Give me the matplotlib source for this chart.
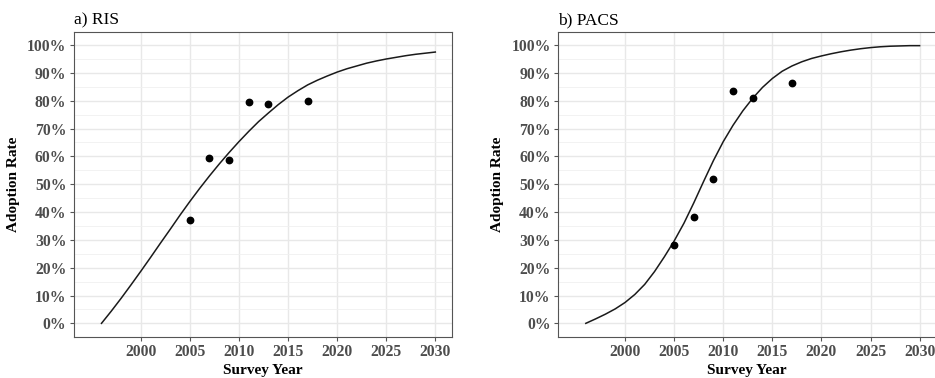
import matplotlib
matplotlib.use("Agg")
import matplotlib.pyplot as plt
from matplotlib.ticker import MultipleLocator, FuncFormatter

# ---- data ----
survey_years = [2005, 2007, 2009, 2011, 2013, 2017]
ris_obs = [37.0, 59.4, 58.7, 79.4, 79.0, 79.9]
pacs_obs = [28.1, 38.2, 52.0, 83.4, 80.9, 86.4]

curve_years = list(range(1996, 2031))
ris_curve = [0.0, 4.4, 9.0, 13.8, 18.7, 23.7, 28.8, 33.8, 38.9, 43.8,
             48.5, 53.0, 57.3, 61.4, 65.3, 69.0, 72.5, 75.6, 78.6, 81.3,
             83.6, 85.7, 87.4, 88.9, 90.3, 91.5, 92.5, 93.5, 94.3, 95.0,
             95.6, 96.2, 96.7, 97.1, 97.5]
pacs_curve = [0.0, 1.6, 3.3, 5.2, 7.5, 10.4, 14.0, 18.6, 23.9, 29.6,
              36.0, 43.3, 51.0, 58.5, 65.3, 71.2, 76.4, 80.9, 84.8, 88.0,
              90.6, 92.5, 94.0, 95.2, 96.1, 96.9, 97.6, 98.2, 98.7, 99.1,
              99.4, 99.6, 99.7, 99.8, 99.8]

panel_titles = ["a) RIS", "b) PACS"]
x_ticks = [2000, 2005, 2010, 2015, 2020, 2025, 2030]
y_ticks = list(range(0, 101, 10))

plt.rcParams['font.family'] = ['Liberation Serif', 'DejaVu Serif']

W, H = 935, 378
fig = plt.figure(figsize=(W / 100, H / 100), dpi=100)

axw = 378 / W
axb = 1 - 336.7 / H
axh = (336.7 - 32.3) / H
lefts = [74 / W, 558.3 / W]

series = [(ris_curve, ris_obs), (pacs_curve, pacs_obs)]

for i, (curve, obs) in enumerate(series):
    ax = fig.add_axes([lefts[i], axb, axw, axh])
    ax.set_xlim(1993.2, 2031.7)
    ax.set_ylim(-4.8, 104.6)
    ax.set_xticks(x_ticks)
    ax.set_yticks(y_ticks)
    ax.yaxis.set_minor_locator(MultipleLocator(5))
    ax.yaxis.set_major_formatter(FuncFormatter(lambda v, p: f"{int(v)}%"))
    ax.grid(True, which='major', color='#e8e8e8', lw=1.0, zorder=0)
    ax.grid(True, which='minor', axis='y', color='#f0f0f0', lw=0.6, zorder=0)
    ax.set_axisbelow(True)
    for s in ax.spines.values():
        s.set_color('#555555')
        s.set_linewidth(0.8)
    ax.tick_params(axis='both', which='major', length=3, width=0.8,
                   color='#555555', labelcolor='#4d4d4d', labelsize=11.3, pad=2.5)
    ax.tick_params(axis='both', which='minor', length=0)
    for lab in ax.get_xticklabels() + ax.get_yticklabels():
        lab.set_fontweight('bold')

    ax.plot(curve_years, curve, color='#1a1a1a', lw=1.1, zorder=3)
    ax.plot(survey_years, obs, 'o', color='black', ms=4.6, zorder=4)

    ax.set_xlabel("Survey Year", fontsize=11, fontweight='bold', labelpad=2.5)
    ax.set_ylabel("Adoption Rate", fontsize=11, fontweight='bold', labelpad=5)
    ax.set_title(panel_titles[i], loc='left', fontsize=12.5, pad=6)

fig.savefig("out.png", dpi=100)
